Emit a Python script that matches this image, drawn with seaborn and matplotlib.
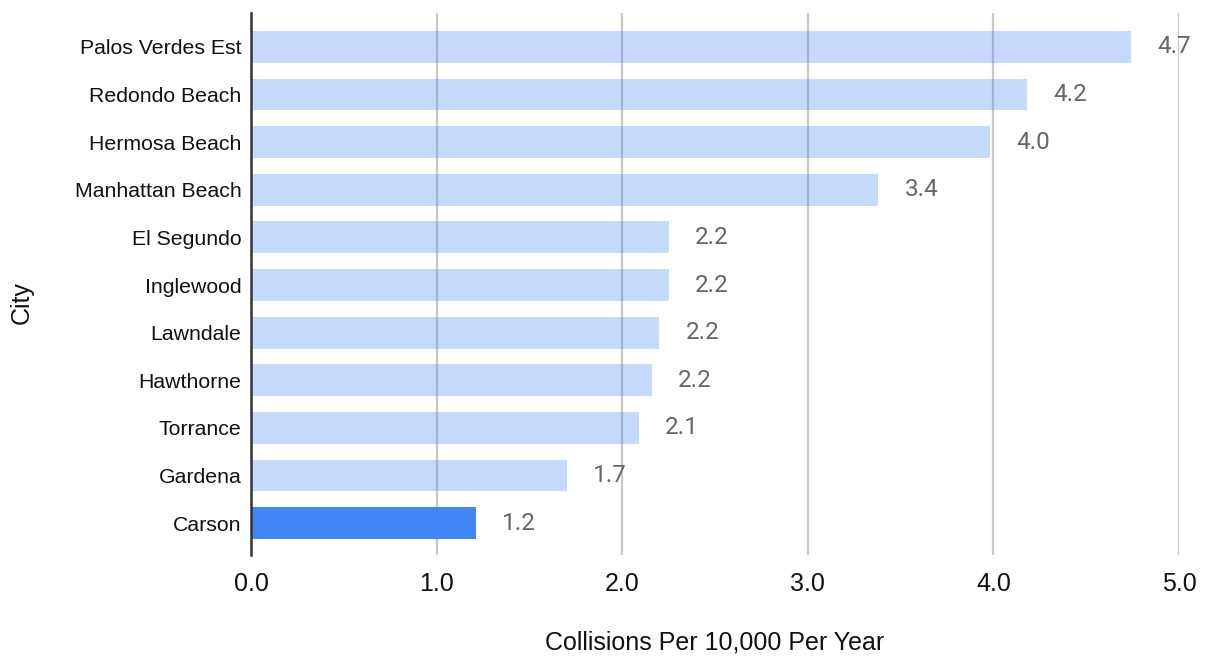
import numpy as np
import pandas as pd
import matplotlib.pyplot as plt
import seaborn as sns

#DATA
cities = ['Palos Verdes Est', 'Redondo Beach', 'Hermosa Beach', 'Manhattan Beach',
          'El Segundo', 'Inglewood', 'Lawndale', 'Hawthorne', 'Torrance', 'Gardena', 'Carson']
rates = [4.74, 4.18, 3.98, 3.38, 2.25, 2.25, 2.20, 2.16, 2.09, 1.70, 1.21]
labels = ['4.7', '4.2', '4.0', '3.4', '2.2', '2.2', '2.2', '2.2', '2.1', '1.7', '1.2']
highlight = 'Carson'

data = pd.DataFrame({'City': cities, 'Rate': rates})
data['hl'] = np.where(data['City'] == highlight, 'yes', 'no')

sns.set_style('white')
plt.rcParams['font.family'] = ['Liberation Sans', 'DejaVu Sans']

fig = plt.figure(figsize=(12.09, 6.56), dpi=100)
ax = fig.add_axes([0.2076, 0.154, 0.7676, 0.826])

sns.barplot(data=data, x='Rate', y='City', hue='hl', palette={'no': '#4285f4', 'yes': '#4285f4'},
            orient='h', width=0.67, dodge=False, legend=False, saturation=1, ax=ax, zorder=3)

# lighter bars everywhere but the highlighted one
for bar in ax.patches:
    cy = bar.get_y() + bar.get_height() / 2
    idx = int(round(cy))
    if 0 <= idx < len(cities) and cities[idx] != highlight:
        bar.set_alpha(0.31)
    bar.set_edgecolor('none')

# value labels
for i, (v, lab) in enumerate(zip(rates, labels)):
    ax.annotate(lab, xy=(v, i), xytext=(19, 0), textcoords='offset points',
                ha='left', va='center', fontsize=17.5, color='#666666', family='Roboto', zorder=5)

ax.set_xlim(0, 5)
ax.set_ylim(10.67, -0.71)
ax.set_xticks([0, 1, 2, 3, 4, 5])
ax.set_xticklabels(['0.0', '1.0', '2.0', '3.0', '4.0', '5.0'])
for x in [1, 2, 3, 4, 5]:
    ax.axvline(x, color='#c8c8c8', lw=1.6, zorder=1)
ax.grid(False)

for s in ['top', 'right', 'bottom']:
    ax.spines[s].set_visible(False)
ax.spines['left'].set_color('#333333')
ax.spines['left'].set_linewidth(1.8)
ax.spines['left'].set_zorder(6)

ax.tick_params(axis='x', length=0, pad=12, labelsize=18, labelcolor='#111111')
ax.tick_params(axis='y', length=0, pad=7, labelsize=15.3, labelcolor='#111111')

ax.set_xlabel('Collisions Per 10,000 Per Year', fontsize=18, color='#111111')
ax.set_ylabel('City', fontsize=18, color='#111111')
ax.xaxis.set_label_coords(0.5, -0.14)
ax.yaxis.set_label_coords(-0.234, 0.465)

plt.savefig('out.png', dpi=100)
